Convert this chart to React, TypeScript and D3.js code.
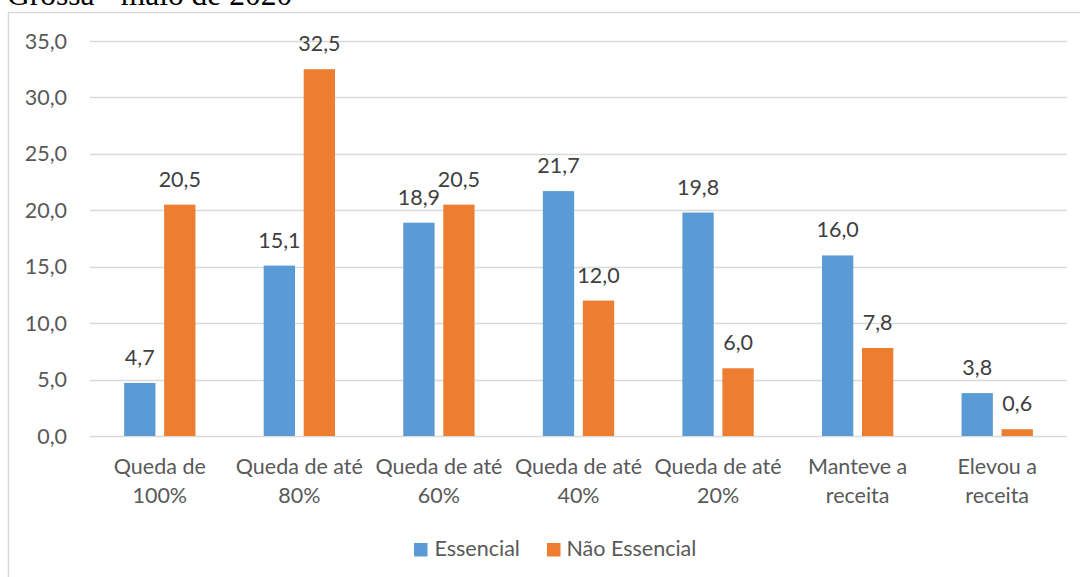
import React from "react";
import * as d3 from "d3";

const categories = [
  ["Queda de", "100%"],
  ["Queda de até", "80%"],
  ["Queda de até", "60%"],
  ["Queda de até", "40%"],
  ["Queda de até", "20%"],
  ["Manteve a", "receita"],
  ["Elevou a", "receita"],
];
const seriesNames = ["Essencial", "Não Essencial"];
const essencial = [4.7, 15.1, 18.9, 21.7, 19.8, 16.0, 3.8];
const naoEssencial = [20.5, 32.5, 20.5, 12.0, 6.0, 7.8, 0.6];
const yTicks = [0, 5, 10, 15, 20, 25, 30, 35];
const colors = ["#5B9BD5", "#ED7D31"];

const W = 1080;
const H = 577;
const FONT = "Lato, 'Open Sans', sans-serif";

export default function App() {
  const left = 90;
  const right = 1067;
  const top = 41;
  const bottom = 436;
  const keys = categories.map((_, i) => String(i));
  const x = d3.scaleBand<string>().domain(keys).range([left, right]).paddingInner(0.489).paddingOuter(0.489 / 2);
  const xs = d3.scaleBand<string>().domain(["0", "1"]).range([0, x.bandwidth()]).paddingInner(0.2175);
  const y = d3.scaleLinear().domain([0, 35]).range([bottom, top]);
  const fmt = (v: number) => v.toFixed(1).replace(".", ",");
  const series = [essencial, naoEssencial];
  const fs = 21.5;

  return (
    <svg width={W} height={H} style={{ position: "absolute", left: 0, top: 0, background: "#fff" }}>
      <rect x={0} y={0} width={W} height={H} fill="#fff" />
      <text x={7} y={5} fontFamily="'Liberation Serif', 'Times New Roman', serif" fontSize={31.5} fill="#000">
        Grossa - maio de 2020
      </text>
      <rect x={8.5} y={12.5} width={1090} height={600} fill="none" stroke="#D9D9D9" strokeWidth={1.5} />
      {yTicks.map((t) => (
        <g key={t}>
          <line x1={left} x2={right} y1={Math.round(y(t)) + 0.5} y2={Math.round(y(t)) + 0.5} stroke="#D9D9D9" strokeWidth={1.5} />
          <text x={67} y={y(t)} dy="0.35em" textAnchor="end" fontFamily={FONT} fontSize={fs} fill="#595959">
            {fmt(t)}
          </text>
        </g>
      ))}
      {series.map((vals, s) =>
        vals.map((v, i) => {
          const bx = (x(String(i)) ?? 0) + (xs(String(s)) ?? 0);
          const bw = xs.bandwidth();
          return (
            <g key={`${s}-${i}`}>
              <rect x={bx} y={y(v)} width={bw} height={y(0) - y(v)} fill={colors[s]} />
              <text x={bx + bw / 2} y={y(v) - 18} textAnchor="middle" fontFamily={FONT} fontSize={fs} fill="#404040">
                {fmt(v)}
              </text>
            </g>
          );
        })
      )}
      {categories.map((lines, i) => {
        const cx = (x(String(i)) ?? 0) + x.bandwidth() / 2;
        return (
          <text key={i} textAnchor="middle" fontFamily={FONT} fontSize={fs} fill="#595959">
            <tspan x={cx} y={474}>{lines[0]}</tspan>
            <tspan x={cx} y={503}>{lines[1]}</tspan>
          </text>
        );
      })}
      <g>
        <rect x={414} y={543} width={13.5} height={13.5} fill={colors[0]} />
        <text x={434.5} y={556} fontFamily={FONT} fontSize={fs} fill="#595959">{seriesNames[0]}</text>
        <rect x={547} y={543} width={13.5} height={13.5} fill={colors[1]} />
        <text x={566.5} y={556} fontFamily={FONT} fontSize={fs} fill="#595959">{seriesNames[1]}</text>
      </g>
    </svg>
  );
}
